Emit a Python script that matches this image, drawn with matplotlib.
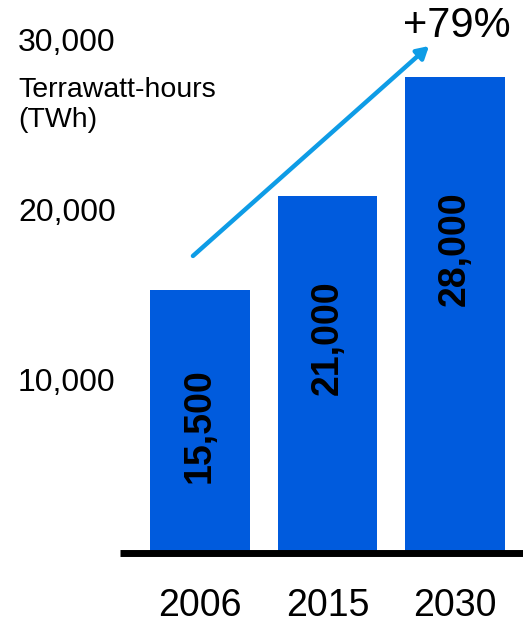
import matplotlib.pyplot as plt

years = ['2006', '2015', '2030']
twh = [15500, 21000, 28000]
bar_labels = ['15,500', '21,000', '28,000']
label_y = [7500, 12650, 17900]
yticks = [10000, 20000, 30000]
ytick_labels = ['10,000', '20,000', '30,000']

plt.rcParams['font.family'] = ['Liberation Sans', 'DejaVu Sans']

W, H = 523, 624
fig = plt.figure(figsize=(W / 100, H / 100), dpi=100)
ax = fig.add_axes([120 / W, (H - 553) / H, (W - 120) / W, 552 / H])

x = range(len(years))
ax.bar(x, twh, width=0.784, color='#005BDD', zorder=1)
ax.set_xlim(-0.627, 2.533)
ax.set_ylim(0, 32500)

for i, (lab, ly) in enumerate(zip(bar_labels, label_y)):
    ax.text(i, ly, lab, rotation=90, ha='center', va='center',
            fontsize=27, fontweight='bold', color='black')

for s in ['top', 'right', 'left']:
    ax.spines[s].set_visible(False)
ax.spines['bottom'].set_linewidth(5)
ax.spines['bottom'].set_color('black')
ax.spines['bottom'].set_capstyle('butt')

ax.set_xticks(list(x))
ax.set_xticklabels(years, fontsize=27)
ax.tick_params(axis='x', length=0, pad=25)
ax.set_yticks(yticks)
ax.set_yticklabels(ytick_labels, fontsize=23)
ax.tick_params(axis='y', length=0, pad=(120 - 18) * 0.72)
for t in ax.get_yticklabels():
    t.set_ha('left')
    t.set_va('center')

# growth arrow
ax.annotate('', xy=(1.796, 29850), xytext=(-0.055, 17490),
            arrowprops=dict(arrowstyle='-|>,head_length=0.7,head_width=0.4',
                            color='#0E9CE6', lw=3.2, shrinkA=0, shrinkB=0),
            annotation_clip=False)
ax.text(2.016, 31000, '+79%', ha='center', va='center', fontsize=30,
        clip_on=False)

fig.text(18 / W, (H - 97) / H, 'Terrawatt-hours', fontsize=20.5, va='baseline')
fig.text(18 / W, (H - 127) / H, '(TWh)', fontsize=20.5, va='baseline')

fig.savefig('out.png', dpi=100)
